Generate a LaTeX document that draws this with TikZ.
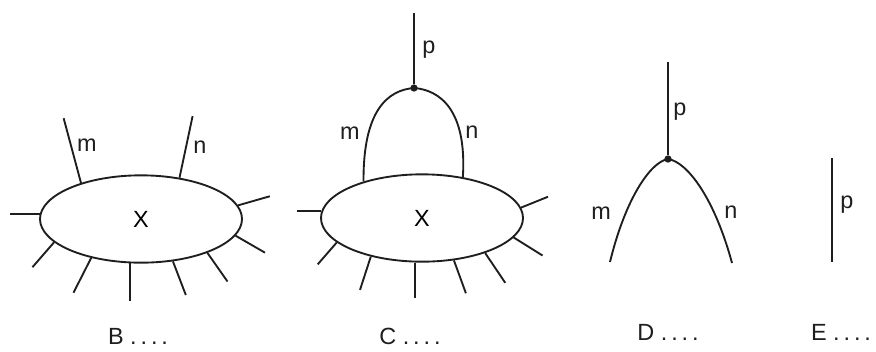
\documentclass[tikz,border=0pt]{standalone}
\usepackage{fontspec}
\setmainfont{Liberation Sans}
\usetikzlibrary{shapes.geometric}
\definecolor{inkgray}{RGB}{30, 30, 30}

\begin{document}
\begin{tikzpicture}[x=0.03cm, y=0.03cm,
        blob/.style={ellipse, draw=inkgray, line width=1.6pt, minimum width=6.06cm, minimum height=2.62cm, inner sep=0pt, font=\fontsize{20}{22}\selectfont},
        leg/.style={draw=inkgray, line width=1.6pt},
        vtx/.style={circle, fill=inkgray, minimum size=0.22cm, inner sep=0pt},
        lbl/.style={font=\fontsize{20}{22}\selectfont\color{inkgray}, inner sep=0pt}
      ]
        \useasboundingbox (0,0) rectangle (876,-351);
        % B
        \node[blob] (xb) at (141,-219) {X};
        \foreach \a/\d/\l in {177/180/30, 8/16/33, -10/-30/34, 195/229/33, 218/243/39, 256/270/38, -53/-69/36, -27/-55/35}
          { \draw[leg] (xb.\a) -- ++(\d:\l); }
        \draw[leg] (xb.149) -- ++(105:67);
        \draw[leg] (xb.47) -- ++(78:63);
        \node[lbl] (bm) at (87,-145) {m};
        \node[lbl] (bn) at (200,-147) {n};
        \node[lbl] (bt) at (138,-336) {B\ .\,.\,.\,.};
        % C
        \node[blob] (xc) at (422,-218) {X};
        \foreach \a/\d/\l in {176/180/24, 6/22/29, -12/-32/34, 196/229/29, 217/252/35, 261/270/35, -53/-70/35, -29/-56/36}
          { \draw[leg] (xc.\a) -- ++(\d:\l); }
        \node[vtx] (vc) at (414,-88) {};
        \coordinate (pc) at (414,-13);
        \draw[leg] (xc.148) .. controls (363,-110) and (388,-90) .. (vc.center);
        \draw[leg] (xc.45) .. controls (467,-110) and (440,-90) .. (vc.center);
        \draw[leg] (vc) -- (pc);
        \node[lbl] (cm) at (350,-133) {m};
        \node[lbl] (cn) at (472,-132) {n};
        \node[lbl] (cp) at (429,-50) {p};
        \node[lbl] (ct) at (410,-336) {C\ .\,.\,.\,.};
        % D
        \node[vtx] (vd) at (668,-159) {};
        \coordinate (pd) at (668,-62);
        \coordinate (dl) at (610,-262);
        \coordinate (dr) at (732,-263);
        \draw[leg] (vd.center) .. controls (650,-162) and (625,-200) .. (dl);
        \draw[leg] (vd.center) .. controls (688,-162) and (715,-200) .. (dr);
        \draw[leg] (vd) -- (pd);
        \node[lbl] (dm) at (601,-213) {m};
        \node[lbl] (dn) at (731,-212) {n};
        \node[lbl] (dp) at (680,-112) {p};
        \node[lbl] (dt) at (668,-332) {D\ .\,.\,.\,.};
        % E
        \coordinate (et) at (832,-158);
        \coordinate (eb) at (832,-262);
        \draw[leg] (et) -- (eb);
        \node[lbl] (ep) at (847,-205) {p};
        \node[lbl] (ex) at (841,-332) {E\ .\,.\,.\,.};
      \end{tikzpicture}
\end{document}
